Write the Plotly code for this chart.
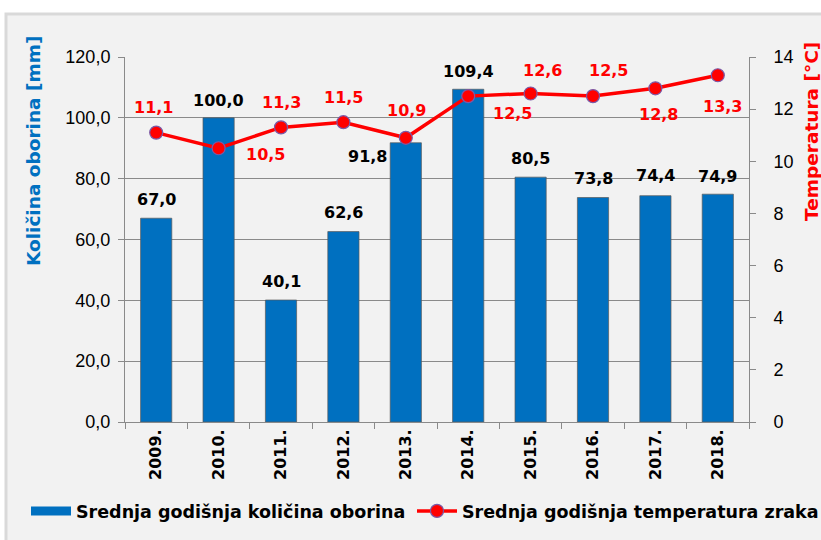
import plotly.graph_objects as go

years = ["2009.", "2010.", "2011.", "2012.", "2013.", "2014.", "2015.", "2016.", "2017.", "2018."]
precip = [67.0, 100.0, 40.1, 62.6, 91.8, 109.4, 80.5, 73.8, 74.4, 74.9]
temp = [11.1, 10.5, 11.3, 11.5, 10.9, 12.5, 12.6, 12.5, 12.8, 13.3]

precip_name = "Srednja godišnja količina oborina"
temp_name = "Srednja godišnja temperatura zraka"

# label offsets (px): (xshift, yshift)
precip_label_shift = [(0, 19), (0, 17), (0, 19), (0, 19), (-38, -14), (0, 18), (0, 19), (0, 19), (0, 20), (0, 18)]
temp_label_shift = [(-3, 25), (47, -6), (0, 25), (0, 25), (1, 27), (44, -17), (12, 23), (15, 26), (3, -26), (5, -31)]

BLUE = "#0070C0"
RED = "#FF0000"
GRID = "#8a8a8a"
BOLD = dict(family="DejaVu Sans", weight="bold")


def fmt(v):
    return f"{v:.1f}".replace(".", ",")


fig = go.Figure()
fig.add_trace(go.Bar(
    x=years, y=precip, name=precip_name,
    marker=dict(color=BLUE, line=dict(color="rgba(90,90,90,0.7)", width=1)),
    showlegend=False, yaxis="y",
))
# legend proxy for the bar series (wide swatch)
fig.add_trace(go.Scatter(
    x=[years[0]], y=[None], mode="lines", name=precip_name, line=dict(color=BLUE, width=9),
    yaxis="y", legend="legend",
))
fig.add_trace(go.Scatter(
    x=years, y=temp, name=temp_name, mode="lines+markers", yaxis="y2", legend="legend2",
    line=dict(color=RED, width=3.5),
    marker=dict(size=13, color=RED, line=dict(color="#7a5aa8", width=1.2)),
))

annotations = []
for i, (v, (dx, dy)) in enumerate(zip(precip, precip_label_shift)):
    annotations.append(dict(x=i, y=v, xref="x", yref="y", text=fmt(v), showarrow=False,
                            xshift=dx, yshift=dy, yanchor="middle",
                            font=dict(size=16, color="black", **BOLD)))
for i, (v, (dx, dy)) in enumerate(zip(temp, temp_label_shift)):
    annotations.append(dict(x=i, y=v, xref="x", yref="y2", text=fmt(v), showarrow=False,
                            xshift=dx, yshift=dy, yanchor="middle",
                            font=dict(size=16, color=RED, **BOLD)))

W, H = 821, 540
L, R, T, B = 125, 72, 57, 118
pw, ph = W - L - R, H - T - B


def px2x(px):
    return (px - L) / pw


def px2y(py):
    return (H - B - py) / ph


annotations.append(dict(x=px2x(33), y=px2y(151), xref="paper", yref="paper", text="Količina oborina [mm]",
                        textangle=-90, showarrow=False, xanchor="center", yanchor="middle",
                        font=dict(size=18.5, color=BLUE, **BOLD)))
annotations.append(dict(x=px2x(811), y=px2y(132), xref="paper", yref="paper", text="Temperatura [°C]",
                        textangle=-90, showarrow=False, xanchor="center", yanchor="middle",
                        font=dict(size=18.5, color=RED, **BOLD)))

legend_common = dict(orientation="h", xanchor="left", yanchor="middle", bgcolor="rgba(0,0,0,0)",
                     xref="container", yref="container",
                     font=dict(size=17.5, color="black", **BOLD), itemwidth=40, borderwidth=0)

fig.update_layout(
    width=W, height=H,
    margin=dict(l=L, r=R, t=T, b=B, pad=0, autoexpand=False),
    paper_bgcolor="white",
    plot_bgcolor="rgba(0,0,0,0)",
    separators=",.",
    bargap=0.5,
    annotations=annotations,
    shapes=[dict(type="rect", xref="paper", yref="paper", x0=px2x(6), x1=px2x(900), y0=px2y(600), y1=px2y(14),
                 fillcolor="#f2f2f2", line=dict(color="#d9d9d9", width=3), layer="below")],
    xaxis=dict(type="category", categoryorder="array", categoryarray=years, range=[-0.5, 9.5],
               ticks="outside", tickson="boundaries", ticklen=6, tickcolor=GRID,
               showline=True, linecolor=GRID, linewidth=1, tickangle=-90, showgrid=False,
               tickfont=dict(size=16, color="black", **BOLD)),
    yaxis=dict(range=[0, 120], dtick=20, tickformat=".1f", ticks="outside", ticklen=6, tickcolor=GRID,
               showline=True, linecolor=GRID, showgrid=True, gridcolor=GRID, gridwidth=1, zeroline=False,
               tickfont=dict(size=18, color="black", family="Liberation Sans"), ticklabelstandoff=4),
    yaxis2=dict(range=[0, 14], dtick=2, overlaying="y", side="right", ticks="outside", ticklen=6, tickcolor=GRID,
                showline=True, linecolor=GRID, showgrid=False, zeroline=False,
                tickfont=dict(size=18, color="black", family="Liberation Sans"), ticklabelstandoff=14),
    legend=dict(x=26 / W, y=1 - 511 / H, **legend_common),
    legend2=dict(x=412 / W, y=1 - 511 / H, **legend_common),
)

fig.write_html("out.html", config={"displayModeBar": False},
               post_script="document.body.style.margin='0px';")
